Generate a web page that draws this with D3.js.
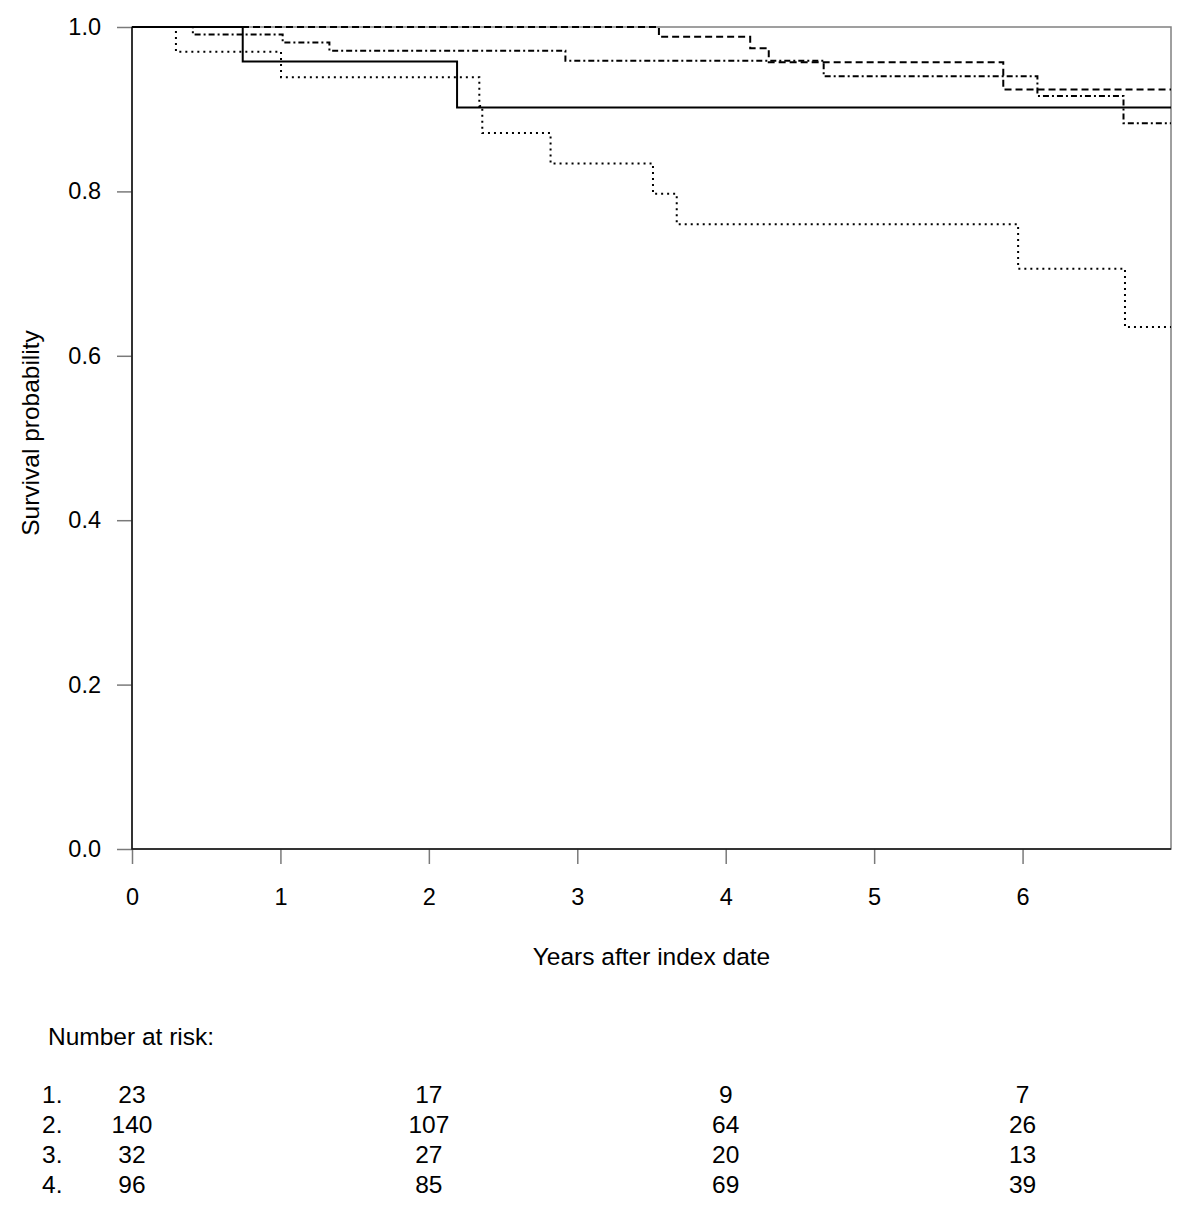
<!DOCTYPE html>
<html>
<head>
<meta charset="utf-8">
<script src="https://cdn.jsdelivr.net/npm/d3@7"></script>
<style>
  body { margin: 0; background: #fff; }
  text { font-family: "Liberation Sans", Arial, sans-serif; fill: #000; }
  .curve { fill: none; stroke: #000; }
</style>
</head>
<body>
<div class="chart-area"></div>
<script>
// step points: [years, survival]; last point closes the step at the end of follow-up
var group1 = [[0, 1], [0.746, 0.958], [2.19, 0.902], [7, 0.902]]
var group2 = [[0, 1], [3.55, 0.988], [4.165, 0.974], [4.29, 0.957], [5.87, 0.924], [7, 0.924]]
var group3 = [[0, 1], [0.296, 0.970], [1.004, 0.939], [2.34, 0.904], [2.36, 0.871], [2.82, 0.834],
              [3.51, 0.797], [3.67, 0.760], [5.97, 0.706], [6.69, 0.635], [7, 0.635]]
var group4 = [[0, 1], [0.41, 0.991], [1.015, 0.981], [1.33, 0.971], [2.92, 0.959], [4.66, 0.940],
              [6.10, 0.916], [6.68, 0.883], [7, 0.883]]

var xTicks = [0, 1, 2, 3, 4, 5, 6]
var yTicks = [0, 0.2, 0.4, 0.6, 0.8, 1.0]

var riskTimes = [0, 2, 4, 6]
var riskLabels = ["1.", "2.", "3.", "4."]
var risk1 = [23, 17, 9, 7]
var risk2 = [140, 107, 64, 26]
var risk3 = [32, 27, 20, 13]
var risk4 = [96, 85, 69, 39]

var chartWidth = 1200,
    chartHeight = 1223,
    plotLeft = 132, plotRight = 1171, plotTop = 27, plotBottom = 849,
    tickFont = "23.5px",
    labelFont = "24.5px",
    svg = d3.select(".chart-area")
            .append("svg")
            .attr("width", chartWidth)
            .attr("height", chartHeight);

var x = d3.scaleLinear().domain([0, 7]).range([plotLeft, plotRight]),
    y = d3.scaleLinear().domain([0, 1]).range([plotBottom, plotTop]);

// axes
var yAxis = svg.append("g")
   .attr("transform", "translate(" + plotLeft + ",0)")
   .call(d3.axisLeft(y).tickValues(yTicks).tickFormat(d3.format(".1f"))
          .tickSizeInner(15).tickSizeOuter(0).tickPadding(16));
var xAxis = svg.append("g")
   .attr("transform", "translate(0," + plotBottom + ")")
   .call(d3.axisBottom(x).tickValues(xTicks).tickFormat(d3.format("d"))
          .tickSizeInner(15).tickSizeOuter(0).tickPadding(24));

[xAxis, yAxis].forEach(function(g) {
  g.select(".domain").remove();
  g.selectAll("line").attr("stroke", "#7a7a7a").attr("stroke-width", 1.5);
  g.selectAll("text").attr("font-size", tickFont).attr("font-family", null).attr("fill", "#000");
});

// frame
svg.append("rect")
   .attr("x", plotLeft).attr("y", plotTop)
   .attr("width", plotRight - plotLeft).attr("height", plotBottom - plotTop)
   .attr("fill", "none").attr("stroke", "#808080").attr("stroke-width", 1.5);
svg.append("path")
   .attr("d", "M" + plotLeft + "," + plotTop + "V" + plotBottom + "H" + plotRight)
   .attr("fill", "none").attr("stroke", "#111").attr("stroke-width", 1.5);

// curves
var line = d3.line()
   .x(function(d) { return x(d[0]) })
   .y(function(d) { return y(d[1]) })
   .curve(d3.curveStepAfter);

svg.append("path").attr("class", "curve").attr("d", line(group2))
   .attr("stroke-width", 2).attr("stroke-dasharray", "7,4");
svg.append("path").attr("class", "curve").attr("d", line(group4))
   .attr("stroke-width", 2).attr("stroke-dasharray", "6,3,2,3");
svg.append("path").attr("class", "curve").attr("d", line(group3))
   .attr("stroke-width", 2).attr("stroke-dasharray", "2,4");
svg.append("path").attr("class", "curve").attr("d", line(group1))
   .attr("stroke-width", 2);

// titles
svg.append("text")
   .attr("x", (plotLeft + plotRight) / 2).attr("y", 965)
   .attr("text-anchor", "middle").attr("font-size", labelFont)
   .text("Years after index date");
svg.append("text")
   .attr("transform", "translate(39,433) rotate(-90)")
   .attr("text-anchor", "middle").attr("font-size", labelFont)
   .text("Survival probability");

// number at risk table
svg.append("text")
   .attr("x", 48).attr("y", 1045)
   .attr("font-size", labelFont)
   .text("Number at risk:");

var riskRows = [risk1, risk2, risk3, risk4];
riskRows.forEach(function(row, i) {
  var yy = 1103 + i * 30;
  svg.append("text")
     .attr("x", 42).attr("y", yy)
     .attr("font-size", labelFont)
     .text(riskLabels[i]);
  svg.selectAll(".risk" + i)
     .data(row)
     .enter()
     .append("text")
     .attr("class", "risk" + i)
     .attr("x", function(d, j) { return x(riskTimes[j]) })
     .attr("y", yy)
     .attr("text-anchor", "middle")
     .attr("font-size", labelFont)
     .text(function(d) { return d });
});
</script>
</body>
</html>
